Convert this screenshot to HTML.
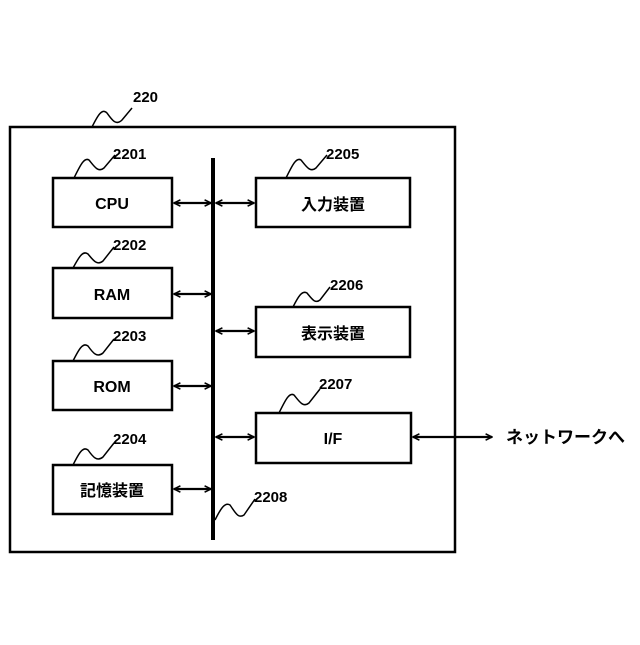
<!DOCTYPE html>
<html><head><meta charset="utf-8"><style>
body{margin:0;background:#fff}
text{font-family:"Liberation Sans","Noto Sans CJK JP",sans-serif;font-weight:bold;fill:#000}
</style></head><body>
<svg width="640" height="640" viewBox="0 0 640 640" xmlns="http://www.w3.org/2000/svg">
<defs>
<marker id="a" viewBox="0 0 10 10" refX="9" refY="5" markerWidth="8" markerHeight="8" orient="auto-start-reverse" markerUnits="userSpaceOnUse"><path d="M1,1 L9,5 L1,9" fill="none" stroke="#000" stroke-width="2"/></marker>
</defs>
<g fill="none" stroke="#000" stroke-width="2.5">
<rect x="10" y="127" width="445" height="425"/>
<rect x="53" y="178" width="119" height="49"/>
<rect x="53" y="268" width="119" height="50"/>
<rect x="53" y="361" width="119" height="49"/>
<rect x="53" y="465" width="119" height="49"/>
<rect x="256" y="178" width="154" height="49"/>
<rect x="256" y="307" width="154" height="50"/>
<rect x="256" y="413" width="155" height="50"/>
</g>
<line x1="213" y1="158" x2="213" y2="540" stroke="#000" stroke-width="4"/>
<g stroke="#000" stroke-width="2.2" marker-start="url(#a)" marker-end="url(#a)">
<line x1="174" y1="203" x2="211" y2="203"/>
<line x1="216" y1="203" x2="254" y2="203"/>
<line x1="174" y1="294" x2="211" y2="294"/>
<line x1="216" y1="331" x2="254" y2="331"/>
<line x1="174" y1="386" x2="211" y2="386"/>
<line x1="216" y1="437" x2="254" y2="437"/>
<line x1="174" y1="489" x2="211" y2="489"/>
<line x1="413" y1="437" x2="492" y2="437"/>
</g>
<g fill="none" stroke="#000" stroke-width="1.5">
<path d="M92,127 C98,115 102,108 107,113 C112,120 116,126 122,120 L132,108"/>
<path d="M74,178 C80,166 84,157 89,160 C94,166 98,173 104,168 L115,155"/>
<path d="M73,268 C79,257 83,250 88,254 C93,260 97,266 103,261 L114,247"/>
<path d="M73,361 C79,349 83,342 88,346 C93,353 97,358 103,353 L114,339"/>
<path d="M73,465 C79,453 83,446 88,450 C93,457 97,462 103,457 L114,443"/>
<path d="M286,178 C292,166 296,157 301,160 C306,166 310,173 316,168 L327,155"/>
<path d="M293,307 C298,297 302,290 307,293 C312,299 315,304 320,300 L330,287"/>
<path d="M279,413 C285,401 289,392 294,395 C299,401 303,408 309,403 L320,389"/>
<path d="M215,520 C221,508 225,502 230,505 C235,512 238,519 244,515 L255,499"/>
</g>
<g font-size="15">
<text x="133" y="102">220</text>
<text x="113" y="159">2201</text>
<text x="113" y="250">2202</text>
<text x="113" y="341">2203</text>
<text x="113" y="444">2204</text>
<text x="326" y="159">2205</text>
<text x="330" y="290">2206</text>
<text x="319" y="389">2207</text>
<text x="254" y="502">2208</text>
</g>
<g font-size="16" text-anchor="middle">
<text x="112" y="209">CPU</text>
<text x="112" y="300">RAM</text>
<text x="112" y="392">ROM</text>
<text x="112" y="496">記憶装置</text>
<text x="333" y="210">入力装置</text>
<text x="333" y="339">表示装置</text>
<text x="333" y="444">I/F</text>
</g>
<text x="506" y="443" font-size="17">ネットワークへ</text>
</svg>
</body></html>
